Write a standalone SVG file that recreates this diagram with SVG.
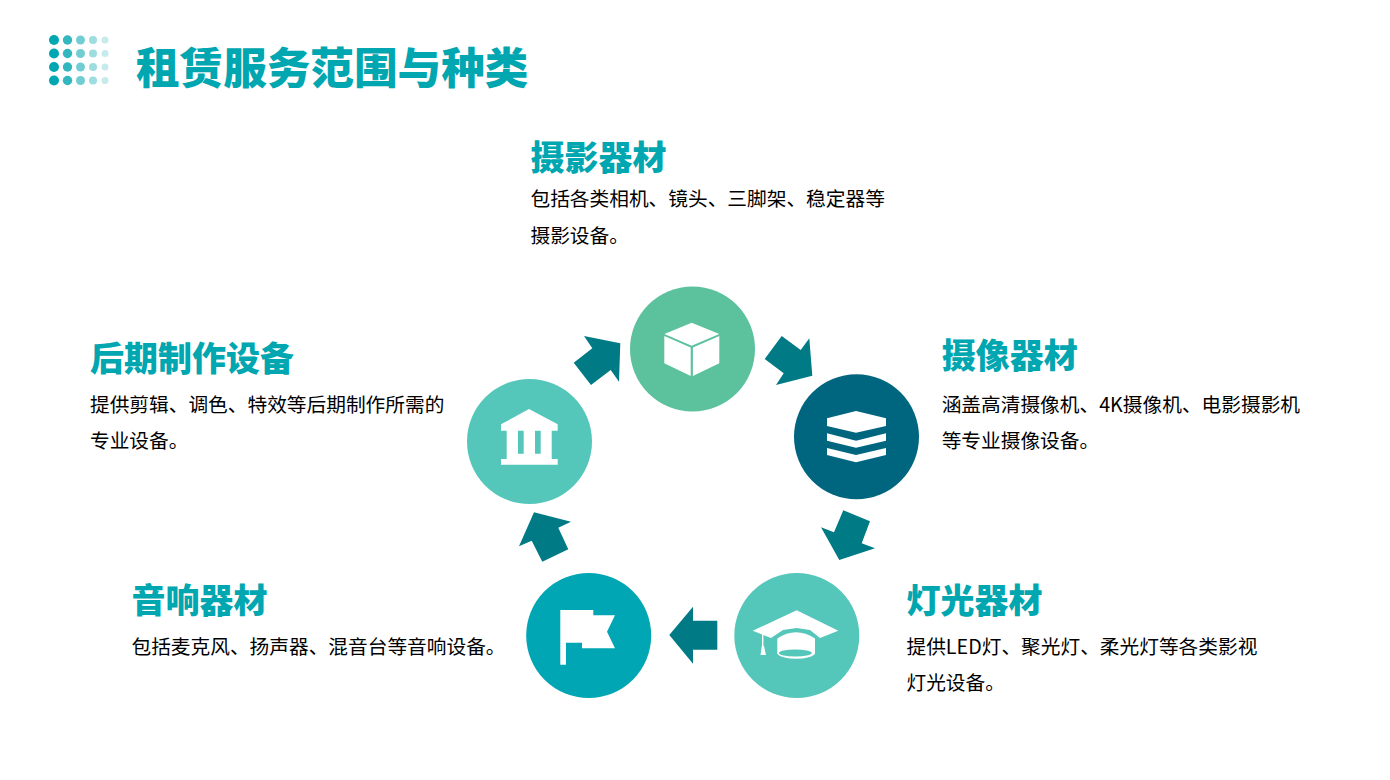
<svg xmlns="http://www.w3.org/2000/svg" width="1390" height="780" viewBox="0 0 1390 780">
<style>
text{font-family:"Noto Sans CJK SC","Noto Sans",sans-serif}
.t{font-size:43.6px;font-weight:900;fill:#00a6b0}
.h{font-size:34px;font-weight:900;fill:#00a6b0}
.b{font-size:19.7px;fill:#000}
.a{fill:#007b85}
.w{fill:#fff}
.d{fill:#00a6b0}
</style>
<rect width="1390" height="780" fill="#fff"/>
<g id="dots" class="d">
<g><circle cx="54" cy="40" r="5"/><circle cx="54" cy="53.500" r="5"/><circle cx="54" cy="67" r="5"/><circle cx="54" cy="80.500" r="5"/></g>
<g opacity=".8"><circle cx="67.500" cy="40" r="4.700"/><circle cx="67.500" cy="53.500" r="4.700"/><circle cx="67.500" cy="67" r="4.700"/><circle cx="67.500" cy="80.500" r="4.700"/></g>
<g opacity=".55"><circle cx="80.500" cy="40" r="4.500"/><circle cx="80.500" cy="53.500" r="4.500"/><circle cx="80.500" cy="67" r="4.500"/><circle cx="80.500" cy="80.500" r="4.500"/></g>
<g opacity=".38"><circle cx="93" cy="40" r="4"/><circle cx="93" cy="53.500" r="4"/><circle cx="93" cy="67" r="4"/><circle cx="93" cy="80.500" r="4"/></g>
<g opacity=".22"><circle cx="105" cy="40" r="3.500"/><circle cx="105" cy="53.500" r="3.500"/><circle cx="105" cy="67" r="3.500"/><circle cx="105" cy="80.500" r="3.500"/></g>
</g>
<text class="t" x="136" y="83.500">租赁服务范围与种类</text>
<g id="connectors">
<polygon class="a" points="620.300,343.300 584,336 592.300,348.300 573.700,362.700 591,385 610.700,370 619,381.700"/>
<polygon class="a" points="812.300,375.700 809.300,338.300 800.700,350 781.700,336 764.700,359 783.700,373.300 776,385"/>
<polygon class="a" points="839.300,560 821,527.300 834,532.300 843.300,510.300 870,521.300 861.700,543.300 875,548.300"/>
<polygon class="a" points="669.300,635 693,606.700 693,620.700 717.300,620.700 717.300,649.700 693,649.700 693,663.700"/>
<polygon class="a" points="534,512.300 571,521.700 558.300,527.700 568.300,549.300 542.300,561.700 531.700,540.700 519,546.300"/>
</g>
<g id="node-photo">
<circle cx="692.500" cy="349" r="62.500" fill="#5cc19d"/>
<polygon class="w" points="691.700,322.700 719.300,334 691.700,345.700 664.300,334"/>
<polygon class="w" points="664.300,336 690.700,347.500 690.700,376 664.300,363.300"/>
<polygon class="w" points="719.300,336 692.900,347.500 692.900,376 719.300,363.300"/>
<text class="h" x="530.500" y="169.500">摄影器材</text>
<text class="b" x="530.500" y="206">包括各类相机、镜头、三脚架、稳定器等</text>
<text class="b" x="530.500" y="242.500">摄影设备。</text>
</g>
<g id="node-video">
<circle cx="856.500" cy="436.800" r="62.500" fill="#006680"/>
<polygon class="w" points="856,411 886,418.300 886,426 856,432.700 827,426 827,418.300"/>
<polygon class="w" points="827,433.300 856,440.700 886,433.300 886,440.700 856,447.700 827,440.700"/>
<polygon class="w" points="827,448 856,455 886,448 886,455 856,462.300 827,455"/>
<text class="h" x="941.700" y="367.500">摄像器材</text>
<text class="b" x="941.700" y="412">涵盖高清摄像机、4K摄像机、电影摄影机</text>
<text class="b" x="941.700" y="447.500">等专业摄像设备。</text>
</g>
<g id="node-light">
<circle cx="796.800" cy="635.500" r="62.500" fill="#55c7ba"/>
<polygon class="w" points="796.700,610.300 838.300,630.700 820,638 810,630 796.500,628 783,630 771,638 752.700,630.700"/>
<path class="w" d="M777.300 638.500Q796 626 815 638.500V653.500A19 6 0 0 1 777.300 653.500Z"/>
<ellipse cx="795.300" cy="653" rx="16.500" ry="3.500" fill="#55c7ba"/>
<rect class="w" x="762" y="634" width="1.400" height="13"/>
<polygon class="w" points="761.800,646 764,646 766,655 760.500,655"/>
<text class="h" x="906.500" y="612.500">灯光器材</text>
<text class="b" x="906.500" y="654">提供LED灯、聚光灯、柔光灯等各类影视</text>
<text class="b" x="906.500" y="690">灯光设备。</text>
</g>
<g id="node-audio">
<circle cx="588.700" cy="635.500" r="62.500" fill="#00a6b4"/>
<polygon class="w" points="560.300,610 593.300,610 593.300,615.300 615,615.300 607,631.700 615,648.300 582,648.300 582,642.700 566,642.700 566,664.700 560.300,664.700"/>
<text class="h" x="131.500" y="612.500">音响器材</text>
<text class="b" x="131.500" y="654">包括麦克风、扬声器、混音台等音响设备。</text>
</g>
<g id="node-post">
<circle cx="529.500" cy="441.500" r="62.500" fill="#55c7ba"/>
<path class="w" fill-rule="evenodd" d="M529 409L557.700 424.300V430.700H551.700V459H557.700V464.700H501V459H506.700V430.700H501V424.300ZM518 430.700V453.700H523.700V430.700ZM535 430.700V453.700H540.700V430.700Z"/>
<text class="h" x="90" y="370.500">后期制作设备</text>
<text class="b" x="90" y="412">提供剪辑、调色、特效等后期制作所需的</text>
<text class="b" x="90" y="447.500">专业设备。</text>
</g>
</svg>
